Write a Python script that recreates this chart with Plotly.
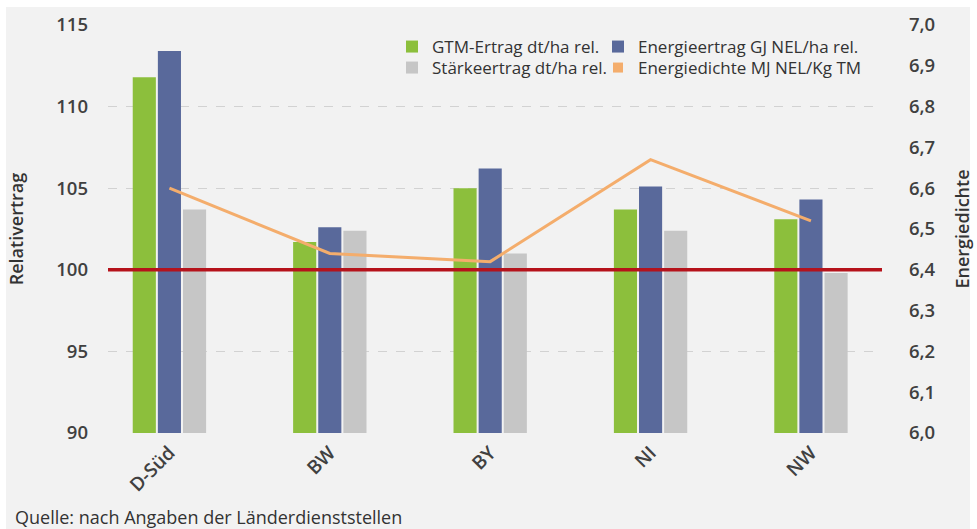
import plotly.graph_objects as go

categories = ["D-Süd", "BW", "BY", "NI", "NW"]
gtm_ertrag = [111.8, 101.7, 105.0, 103.7, 103.1]
energieertrag = [113.4, 102.6, 106.2, 105.1, 104.3]
staerkeertrag = [103.7, 102.4, 101.0, 102.4, 99.8]
energiedichte = [6.60, 6.44, 6.42, 6.67, 6.52]
reference_value = 100

FONT = "Open Sans"
TXT = "#404040"

W, H = 977, 529
L, R, T, B = 108, 95, 25, 96
pw, ph = W - L - R, H - T - B


def px_x(p):
    return (p - L) / pw


def px_y(p):
    return (H - B - p) / ph


fig = go.Figure()
fig.add_trace(go.Bar(x=categories, y=gtm_ertrag, name="GTM-Ertrag dt/ha rel.",
                     marker=dict(color="#8CBF3C", line=dict(width=0)), legend="legend"))
fig.add_trace(go.Bar(x=categories, y=energieertrag, name="Energieertrag GJ NEL/ha rel.",
                     marker=dict(color="#59699B", line=dict(width=0)), legend="legend2"))
fig.add_trace(go.Bar(x=categories, y=staerkeertrag, name="Stärkeertrag dt/ha rel.",
                     marker=dict(color="#C6C6C6", line=dict(width=0)), legend="legend3"))
fig.add_trace(go.Scatter(x=categories, y=energiedichte, yaxis="y2", mode="lines",
                         line=dict(color="#F4AD6C", width=3), showlegend=False,
                         name="Energiedichte MJ NEL/Kg TM"))
# legend entry with square symbol for the line series
fig.add_trace(go.Scatter(x=[None], y=[None], yaxis="y2", mode="markers",
                         marker=dict(symbol="square", size=10, color="#F4AD6C"),
                         name="Energiedichte MJ NEL/Kg TM", legend="legend4"))

legend_common = dict(orientation="v", xanchor="left", yanchor="top",
                     bgcolor="rgba(0,0,0,0)", itemwidth=30, borderwidth=0,
                     font=dict(size=17, color="#333333", family=FONT))

col1, col2 = 392, 598
row1, row2 = 29, 50

fig.update_layout(
    width=W, height=H,
    margin=dict(l=L, r=R, t=T, b=B, autoexpand=False),
    paper_bgcolor="white",
    plot_bgcolor="rgba(0,0,0,0)",
    separators=",.",
    barmode="group",
    bargap=0.53,
    bargroupgap=0.08,
    font=dict(family=FONT, color=TXT, size=15),
    xaxis=dict(range=[-0.383, 4.443], showgrid=False, showline=False, zeroline=False,
               tickangle=-45, ticks="", ticklabelstandoff=4,
               tickfont=dict(size=19, color=TXT, weight=600)),
    yaxis=dict(range=[90, 115], dtick=5, showgrid=True, gridcolor="#D2D2D2",
               griddash="dash", gridwidth=1, zeroline=False, showline=False,
               ticks="", ticklabelstandoff=19,
               tickfont=dict(size=18.5, color=TXT, weight=600),
               title=dict(text="Relativertrag", font=dict(size=18, color="#333333", weight=600),
                          standoff=27)),
    yaxis2=dict(range=[6.0, 7.0], dtick=0.1, tickformat=".1f", overlaying="y", side="right",
                showgrid=False, zeroline=False, showline=False, ticks="",
                ticklabelstandoff=26,
                tickfont=dict(size=18.5, color=TXT, weight=600),
                title=dict(text="Energiedichte", font=dict(size=18, color="#333333", weight=600),
                           standoff=21)),
    legend=dict(x=px_x(col1), y=px_y(row1), **legend_common),
    legend2=dict(x=px_x(col2), y=px_y(row1), **legend_common),
    legend3=dict(x=px_x(col1), y=px_y(row2), **legend_common),
    legend4=dict(x=px_x(col2), y=px_y(row2), **legend_common),
    shapes=[
        dict(type="rect", xref="paper", yref="paper", x0=px_x(6), x1=px_x(970),
             y0=px_y(529), y1=px_y(7), fillcolor="#F2F2F2", line=dict(width=0), layer="below"),
        dict(type="line", xref="paper", yref="y", x0=0, x1=1, y0=reference_value,
             y1=reference_value, line=dict(color="#B5121B", width=3.5), layer="above"),
    ],
    annotations=[
        dict(text="Quelle: nach Angaben der Länderdienststellen", xref="paper", yref="paper",
             x=px_x(13), y=px_y(517), xanchor="left", yanchor="middle", showarrow=False,
             font=dict(size=18, color="#333333")),
    ],
)

fig.write_html("out.html", config={"displayModeBar": False},
               post_script="document.body.style.margin='0px';")
